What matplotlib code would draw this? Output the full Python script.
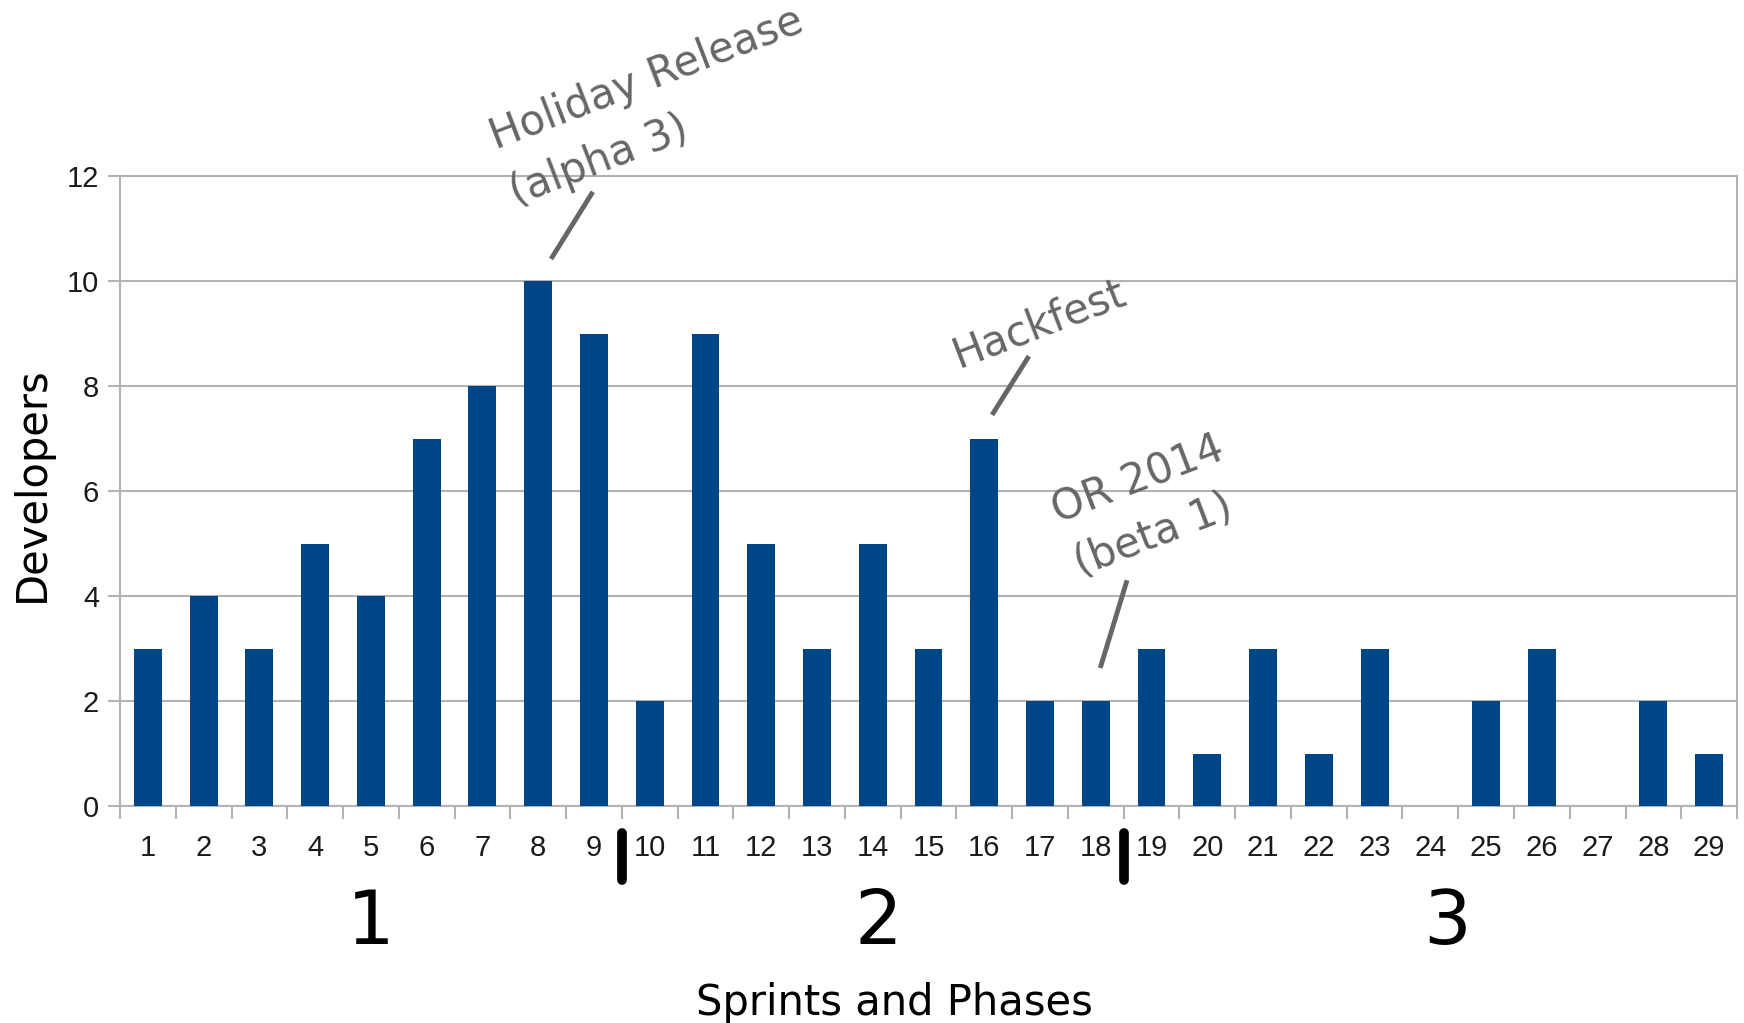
import matplotlib
matplotlib.use('Agg')
import matplotlib.pyplot as plt
import matplotlib.transforms as mtransforms

# developers taking part in each sprint
sprints = list(range(1, 30))
developers = [3, 4, 3, 5, 4, 7, 8, 10, 9, 2, 9, 5, 3, 5, 3, 7, 2, 2, 3, 1,
              3, 1, 3, 0, 2, 3, 0, 2, 1]

# phases: label, centre (in sprints), and the boundaries between phases
phase_labels = ['1', '2', '3']
phase_centres = [5, 14.1, 24.3]
phase_bounds = [9.5, 18.5]

# events noted on the chart
event_lines = [['Holiday Release', '(alpha 3)'], ['Hackfest'], ['OR 2014', '(beta 1)']]
event_text_pos = [[(7.24, 12.50), (7.60, 11.44)], [(15.54, 8.36)], [(17.32, 5.38), (17.72, 4.38)]]
event_pointer = [((8.23, 10.42), (8.98, 11.70)), ((16.14, 7.45), (16.80, 8.57)), ((18.08, 2.63), (18.56, 4.30))]

bar_color = '#004586'
grid_color = '#b3b3b3'
note_color = '#666666'

fig = plt.figure(figsize=(17.44, 10.23), dpi=100)
ax = fig.add_axes([0.0688, 0.2121, 0.9272, 0.6158])

ax.bar(sprints, developers, width=0.5, color=bar_color, zorder=3)

ax.set_xlim(0.5, 29.5)
ax.set_ylim(0, 12)

# y axis
ax.set_yticks(range(0, 13, 2))
ax.yaxis.grid(True, color=grid_color, linewidth=1.5, zorder=0)
ax.tick_params(axis='y', length=9, width=1.5, color=grid_color, pad=6,
               labelsize=21, labelcolor='#1a1a1a')

# x axis: ticks between the sprints, labels in the middle
ax.set_xticks([s - 0.5 for s in sprints] + [29.5])
ax.set_xticklabels([])
ax.set_xticks(sprints, minor=True)
ax.set_xticklabels([str(s) for s in sprints], minor=True)
ax.tick_params(axis='x', which='major', length=9, width=1.5, color=grid_color)
ax.tick_params(axis='x', which='minor', length=0, pad=20, labelsize=21, labelcolor='#1a1a1a')
for lab in ax.get_xticklabels(minor=True) + ax.get_yticklabels():
    lab.set_family('Liberation Sans')

for sp in ax.spines.values():
    sp.set_color(grid_color)
    sp.set_linewidth(1.5)

ax.set_xlabel('Sprints and Phases', fontsize=30, va='center')
ax.xaxis.set_label_coords(0.4787, -0.313)
ax.set_ylabel('Developers', fontsize=30, va='center')
ax.yaxis.set_label_coords(-0.0545, 0.511)

# phase separators and numbers below the tick labels
trans = mtransforms.blended_transform_factory(ax.transData, ax.transAxes)
for b in phase_bounds:
    ax.plot([b, b], [-0.043, -0.117], transform=trans, color='black', lw=7,
            solid_capstyle='round', clip_on=False)
for lab, c in zip(phase_labels, phase_centres):
    ax.text(c, -0.219, lab, transform=trans, fontsize=54, ha='center', va='baseline')

# event notes
for lines, pos, (p0, p1) in zip(event_lines, event_text_pos, event_pointer):
    for txt, (x, y) in zip(lines, pos):
        ax.text(x, y, txt, fontsize=30, color=note_color, rotation=21,
                rotation_mode='anchor', ha='left', va='baseline', clip_on=False)
    ax.plot([p0[0], p1[0]], [p0[1], p1[1]], color=note_color, lw=3.5,
            solid_capstyle='butt', clip_on=False, zorder=4)

fig.savefig('out.png', dpi=100)
